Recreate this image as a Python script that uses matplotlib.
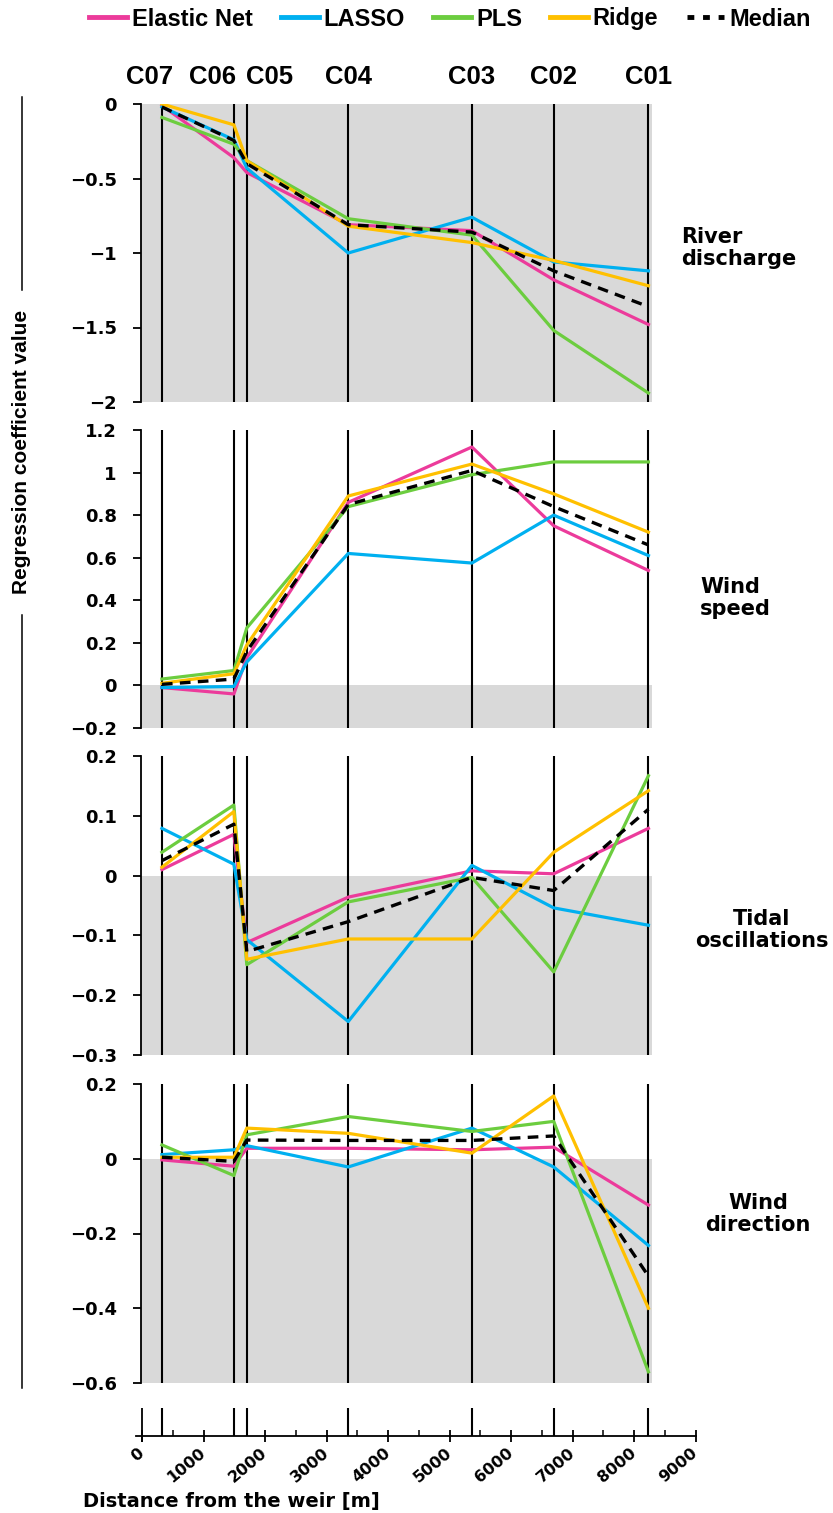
import matplotlib
matplotlib.use('Agg')
import matplotlib.pyplot as plt
from matplotlib.lines import Line2D
from matplotlib import font_manager
import numpy as np

# ===== DATA =====
stations = ['C07', 'C06', 'C05', 'C04', 'C03', 'C02', 'C01']
distance = [320, 1490, 1700, 3350, 5360, 6690, 8230]   # m from the weir

models = ['Elastic Net', 'LASSO', 'PLS', 'Ridge', 'Median']

river_discharge = {
    'Elastic Net': [-0.01, -0.36, -0.46, -0.81, -0.85, -1.18, -1.48],
    'LASSO':       [-0.02, -0.24, -0.43, -1.00, -0.76, -1.06, -1.12],
    'PLS':         [-0.09, -0.27, -0.38, -0.77, -0.88, -1.52, -1.94],
    'Ridge':       [0.00, -0.14, -0.38, -0.82, -0.93, -1.05, -1.22],
    'Median':      [-0.02, -0.245, -0.40, -0.81, -0.86, -1.12, -1.36],
}
wind_speed = {
    'Elastic Net': [-0.01, -0.04, 0.13, 0.86, 1.12, 0.75, 0.54],
    'LASSO':       [-0.01, -0.005, 0.11, 0.62, 0.575, 0.80, 0.61],
    'PLS':         [0.03, 0.07, 0.27, 0.84, 0.99, 1.05, 1.05],
    'Ridge':       [0.01, 0.055, 0.19, 0.89, 1.04, 0.90, 0.72],
    'Median':      [0.005, 0.03, 0.16, 0.85, 1.01, 0.84, 0.66],
}
tidal_osc = {
    'Elastic Net': [0.010, 0.069, -0.112, -0.036, 0.008, 0.003, 0.079],
    'LASSO':       [0.079, 0.019, -0.107, -0.244, 0.017, -0.054, -0.083],
    'PLS':         [0.039, 0.118, -0.149, -0.044, -0.003, -0.161, 0.167],
    'Ridge':       [0.014, 0.107, -0.140, -0.106, -0.106, 0.039, 0.142],
    'Median':      [0.025, 0.086, -0.127, -0.077, -0.003, -0.025, 0.111],
}
wind_dir = {
    'Elastic Net': [-0.003, -0.020, 0.028, 0.028, 0.024, 0.031, -0.124],
    'LASSO':       [0.011, 0.024, 0.035, -0.022, 0.082, -0.022, -0.232],
    'PLS':         [0.037, -0.045, 0.064, 0.113, 0.073, 0.100, -0.570],
    'Ridge':       [0.004, 0.004, 0.082, 0.068, 0.015, 0.168, -0.400],
    'Median':      [0.004, -0.007, 0.050, 0.049, 0.049, 0.061, -0.314],
}

panel_names = ['River\ndischarge', 'Wind\nspeed', 'Tidal\noscillations', 'Wind\ndirection']
panel_data = [river_discharge, wind_speed, tidal_osc, wind_dir]
panel_ylim = [(-2, 0), (-0.2, 1.2), (-0.3, 0.2), (-0.6, 0.2)]
panel_yticks = [[0, -0.5, -1, -1.5, -2],
                [1.2, 1, 0.8, 0.6, 0.4, 0.2, 0, -0.2],
                [0.2, 0.1, 0, -0.1, -0.2, -0.3],
                [0.2, 0, -0.2, -0.4, -0.6]]
x_ticks = list(range(0, 10000, 1000))

# ===== STYLE =====
colors = {'Elastic Net': '#EC3B9B', 'LASSO': '#00B0F0', 'PLS': '#6CCD3F',
          'Ridge': '#FFC000', 'Median': 'black'}
GRAY = '#D9D9D9'
W, H = 833, 1513

available = {f.name for f in font_manager.fontManager.ttflist}
HAS_NARROW = 'Liberation Sans Narrow' in available
NARROW = 'Liberation Sans Narrow' if HAS_NARROW else 'Liberation Sans'
HEAVY = 'DejaVu Sans'

fig = plt.figure(figsize=(W / 100, H / 100), dpi=100)


def px_axes(left, top, right, bottom):
    return fig.add_axes([left / W, 1 - bottom / H, (right - left) / W, (bottom - top) / H])


def fx(px):
    return px / W


def fy(py):
    return 1 - py / H


def fmt(v):
    return ('%g' % v).replace('-', '\u2212')


# panel pixel boxes (top, bottom)
panel_box = [(104, 402), (430, 728), (756, 1055), (1084, 1383)]
label_pos = [(681, 248, 'left'), (700, 598, 'left'), (762, 930, 'center'), (758, 1214, 'center')]
XLIM = (-20, 8280)

for i, (data, (top, bot)) in enumerate(zip(panel_data, panel_box)):
    ax = px_axes(141, top, 651.5, bot)
    ymin, ymax = panel_ylim[i]
    ax.set_xlim(*XLIM)
    ax.set_ylim(ymin, ymax)
    ax.axhspan(ymin, 0, color=GRAY, lw=0, zorder=0)
    ax.vlines(distance, ymin, ymax, color='black', lw=1.5, zorder=1)
    for m in models:
        if m == 'Median':
            ax.plot(distance, data[m], color='black', lw=2.4, dashes=(3.2, 2.2),
                    zorder=4, solid_capstyle='butt')
        else:
            ax.plot(distance, data[m], color=colors[m], lw=2.3, zorder=3)
    for s in ['top', 'right', 'bottom']:
        ax.spines[s].set_visible(False)
    ax.spines['left'].set_linewidth(1.3)
    ax.set_xticks([])
    ax.set_yticks(panel_yticks[i])
    ax.set_yticklabels([fmt(v) for v in panel_yticks[i]], fontsize=13,
                       fontweight='bold', family=HEAVY)
    ax.tick_params(axis='y', direction='out', length=5.5, width=1.3, pad=12)
    ax.patch.set_visible(False)
    lx, ly, ha = label_pos[i]
    fig.text(fx(lx), fy(ly), panel_names[i], ha=ha, va='center', multialignment=ha,
             fontsize=15, fontweight='bold', family=HEAVY, linespacing=1.15)

# station labels on top
label_shift = [-12, -21, 23, 0, 0, 0, 0]
for st, d, sh in zip(stations, distance, label_shift):
    xp = 141 + (d - XLIM[0]) * 510.5 / (XLIM[1] - XLIM[0]) + sh
    fig.text(fx(xp), fy(77), st, ha='center', va='center',
             fontsize=21 if HAS_NARROW else 18.5, fontweight='bold', family=NARROW)

# bottom distance axis
axb = px_axes(136.1, 1408, 695.7, 1442)
axb.set_xlim(-100, 9000)
axb.set_ylim(-0.2, 1.0)
axb.vlines(distance, 0, 1, color='black', lw=1.5)
axb.vlines([0], -0.2, 1, color='black', lw=1.3)
for s in ['top', 'right', 'left']:
    axb.spines[s].set_visible(False)
axb.spines['bottom'].set_position(('data', 0))
axb.spines['bottom'].set_linewidth(1.3)
axb.set_yticks([])
axb.set_xticks(x_ticks)
axb.set_xticks(np.arange(500, 9000, 1000), minor=True)
axb.set_xticklabels([str(v) for v in x_ticks], rotation=40, ha='right', va='center',
                    rotation_mode='anchor', fontsize=11.5, fontweight='bold', family=HEAVY)
axb.tick_params(axis='x', which='major', direction='inout', length=9, width=1.3, pad=6)
axb.tick_params(axis='x', which='minor', direction='in', length=4.5, width=1.1)
axb.patch.set_visible(False)

fig.text(fx(83), fy(1502), 'Distance from the weir [m]', ha='left', va='center',
         fontsize=14, fontweight='bold', family=HEAVY)

# y label with guide lines
fig.text(fx(22), fy(452), 'Regression coefficient value', rotation=90, ha='center',
         va='center', fontsize=17 if HAS_NARROW else 15, fontweight='bold', family=NARROW)
fig.add_artist(Line2D([fx(22), fx(22)], [fy(97), fy(290)], color='black', lw=1.1))
fig.add_artist(Line2D([fx(22), fx(22)], [fy(615), fy(1388)], color='black', lw=1.1))

# legend
handles = []
for m in models:
    if m == 'Median':
        handles.append(Line2D([], [], color='black', lw=3.5, dashes=(1.4, 1.8)))
    else:
        handles.append(Line2D([], [], color=colors[m], lw=3.5))
fig.legend(handles, models, loc='center', bbox_to_anchor=(fx(450), fy(19)), ncol=5,
           frameon=False, handlelength=1.6, handletextpad=0.2, columnspacing=1.2,
           prop={'family': NARROW, 'weight': 'bold', 'size': 19 if HAS_NARROW else 17})

fig.savefig('out.png', dpi=100)
